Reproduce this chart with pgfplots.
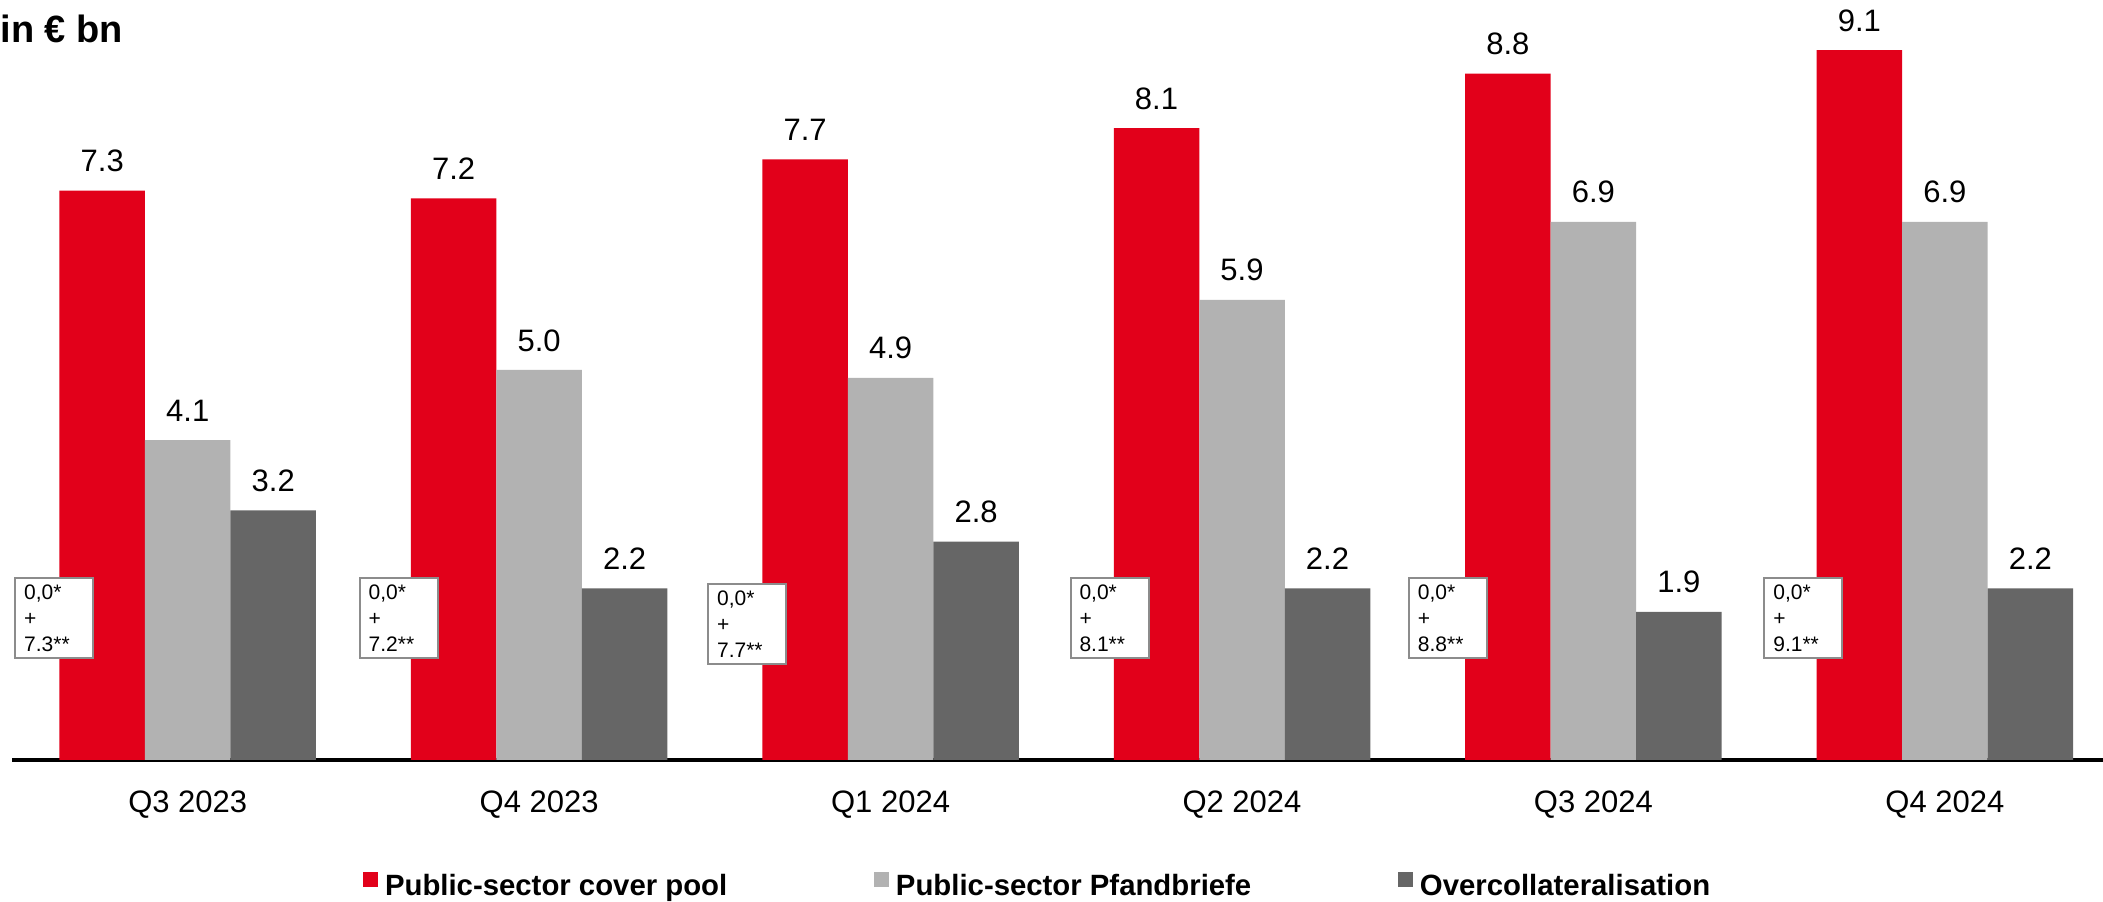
\documentclass[border=0pt]{standalone}
\usepackage{fontspec}
\setmainfont{Liberation Sans}
\usepackage{pgfplots}
\pgfplotsset{compat=1.18}
\definecolor{dbred}{HTML}{E2001A}
\definecolor{lgray}{HTML}{B2B2B2}
\definecolor{dgray}{HTML}{666666}
\definecolor{boxgray}{HTML}{8C8C8C}
\tikzset{annbox/.style={draw=boxgray, line width=0.6pt, fill=white,
  font=\fontsize{6.3}{7.8}\selectfont, align=left, text width=18pt,
  inner xsep=2.7pt, inner ysep=0pt, minimum height=24pt}}
\begin{document}
\begin{tikzpicture}
\begin{axis}[
  scale only axis, width=627.3pt, height=226.98pt,
  xmin=-0.5, xmax=5.45, ymin=0, ymax=9.7,
  clip=false,
  ybar=0pt, bar width=25.65pt,
  axis x line*=bottom, axis y line=none, ytick=\empty,
  x axis line style={-, line width=1.2pt, black},
  xtick={0,1,2,3,4,5},
  xticklabels={Q3 2023,Q4 2023,Q1 2024,Q2 2024,Q3 2024,Q4 2024},
  major tick length=0pt, xtick style={draw=none},
  xticklabel style={font=\fontsize{9.3}{11}\selectfont, inner sep=0pt, anchor=north, yshift=-9pt},
  nodes near coords,
  nodes near coords style={font=\fontsize{9.3}{11}\selectfont, inner sep=0pt, anchor=south, yshift=5.4pt, text=black},
  legend columns=3,
  legend style={draw=none, fill=none, at={(0.49,0)}, anchor=center, yshift=-37.8pt,
    font=\bfseries\fontsize{8.8}{10}\selectfont, inner sep=0pt,
    nodes={inner sep=0pt},
    /tikz/every odd column/.append style={column sep=2.1pt},
    /tikz/every even column/.append style={column sep=44pt}},
  /pgf/number format/fixed, /pgf/number format/fixed zerofill,
  /pgf/number format/precision=1, /pgf/number format/assume math mode=true,
]
\addplot[fill=dbred, draw=none, legend image code/.code={\fill[dbred] (0pt,0.15pt) rectangle (4.5pt,4.65pt);}]
  coordinates {(0,7.3) (1,7.2) (2,7.7) (3,8.1) (4,8.8) (5,9.1)};
\addlegendentry{Public-sector cover pool}
\addplot[fill=lgray, draw=none, legend image code/.code={\fill[lgray] (0pt,0.15pt) rectangle (4.5pt,4.65pt);}]
  coordinates {(0,4.1) (1,5.0) (2,4.9) (3,5.9) (4,6.9) (5,6.9)};
\addlegendentry{Public-sector Pfandbriefe}
\addplot[fill=dgray, draw=none, legend image code/.code={\fill[dgray] (0pt,0.15pt) rectangle (4.5pt,4.65pt);}]
  coordinates {(0,3.2) (1,2.2) (2,2.8) (3,2.2) (4,1.9) (5,2.2)};
\addlegendentry{Overcollateralisation}

\node[annbox, xshift=-40.05pt, yshift=42.6pt] at (axis cs:0,0) {0,0*\\+\\7.3**};
\node[annbox, xshift=-42.15pt, yshift=42.6pt] at (axis cs:1,0) {0,0*\\+\\7.2**};
\node[annbox, xshift=-43.05pt, yshift=40.8pt] at (axis cs:2,0) {0,0*\\+\\7.7**};
\node[annbox, xshift=-39.75pt, yshift=42.6pt] at (axis cs:3,0) {0,0*\\+\\8.1**};
\node[annbox, xshift=-43.65pt, yshift=42.6pt] at (axis cs:4,0) {0,0*\\+\\8.8**};
\node[annbox, xshift=-42.45pt, yshift=42.6pt] at (axis cs:5,0) {0,0*\\+\\9.1**};

\node[anchor=base west, inner sep=0pt, font=\bfseries\fontsize{11.4}{13}\selectfont,
  xshift=-3.6pt, yshift=-11.88pt] at (rel axis cs:0,1) {in € bn};
\coordinate (bl) at (rel axis cs:0,0);
\coordinate (tr) at (rel axis cs:1,1);
\end{axis}
\pgfresetboundingbox
\path ([xshift=-3.6pt,yshift=-42.6pt]bl) rectangle ([yshift=1.02pt]tr);
\end{tikzpicture}
\end{document}
